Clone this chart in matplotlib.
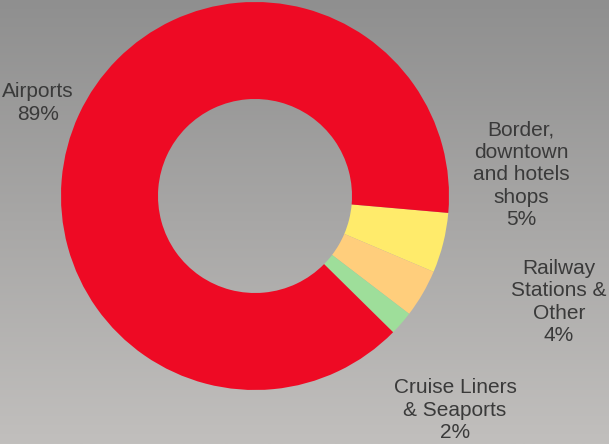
import numpy as np
import matplotlib
matplotlib.use("Agg")
import matplotlib.pyplot as plt
from matplotlib.colors import LinearSegmentedColormap

# data
labels = ["Border,\ndowntown\nand hotels\nshops", "Railway\nStations &\nOther",
          "Cruise Liners\n& Seaports", "Airports"]
values = [5, 4, 2, 89]
colors = ["#FFEB6B", "#FFCE7C", "#9EDE9A", "#EE0A24"]

W, H = 609, 444
cx, cy, R = 255, 196, 194   # pie centre / radius in pixels

fig = plt.figure(figsize=(W / 100, H / 100), dpi=100)

# background gradient
bg = fig.add_axes([0, 0, 1, 1])
cmap = LinearSegmentedColormap.from_list("bg", ["#8f8f8f", "#c1bfbd"])
bg.imshow(np.linspace(0, 1, 256).reshape(-1, 1), aspect="auto", cmap=cmap,
          extent=[0, 1, 0, 1])
bg.axis("off")

ax = fig.add_axes([0, 0, 1, 1])
ax.set_facecolor("none")
ax.pie(values, colors=colors, startangle=-5, counterclock=False, radius=1,
       wedgeprops=dict(width=0.5, linewidth=0))
ax.set_xlim(-cx / R, (W - cx) / R)
ax.set_ylim(-(H - cy) / R, cy / R)
ax.set_aspect("equal")
ax.axis("off")

def px(x, y):
    return (x - cx) / R, (cy - y) / R

txt = dict(ha="center", va="center", fontsize=15, color="#3a3a3a",
           family="Liberation Sans", linespacing=1.22)
label_pos = [(521, 175), (559, 302), (455, 410), (38, 103)]
for lab, v, (x, y) in zip(labels, values, label_pos):
    ax.text(*px(x, y), f"{lab}\n{v}%", **txt)

fig.savefig("out.png", dpi=100)
